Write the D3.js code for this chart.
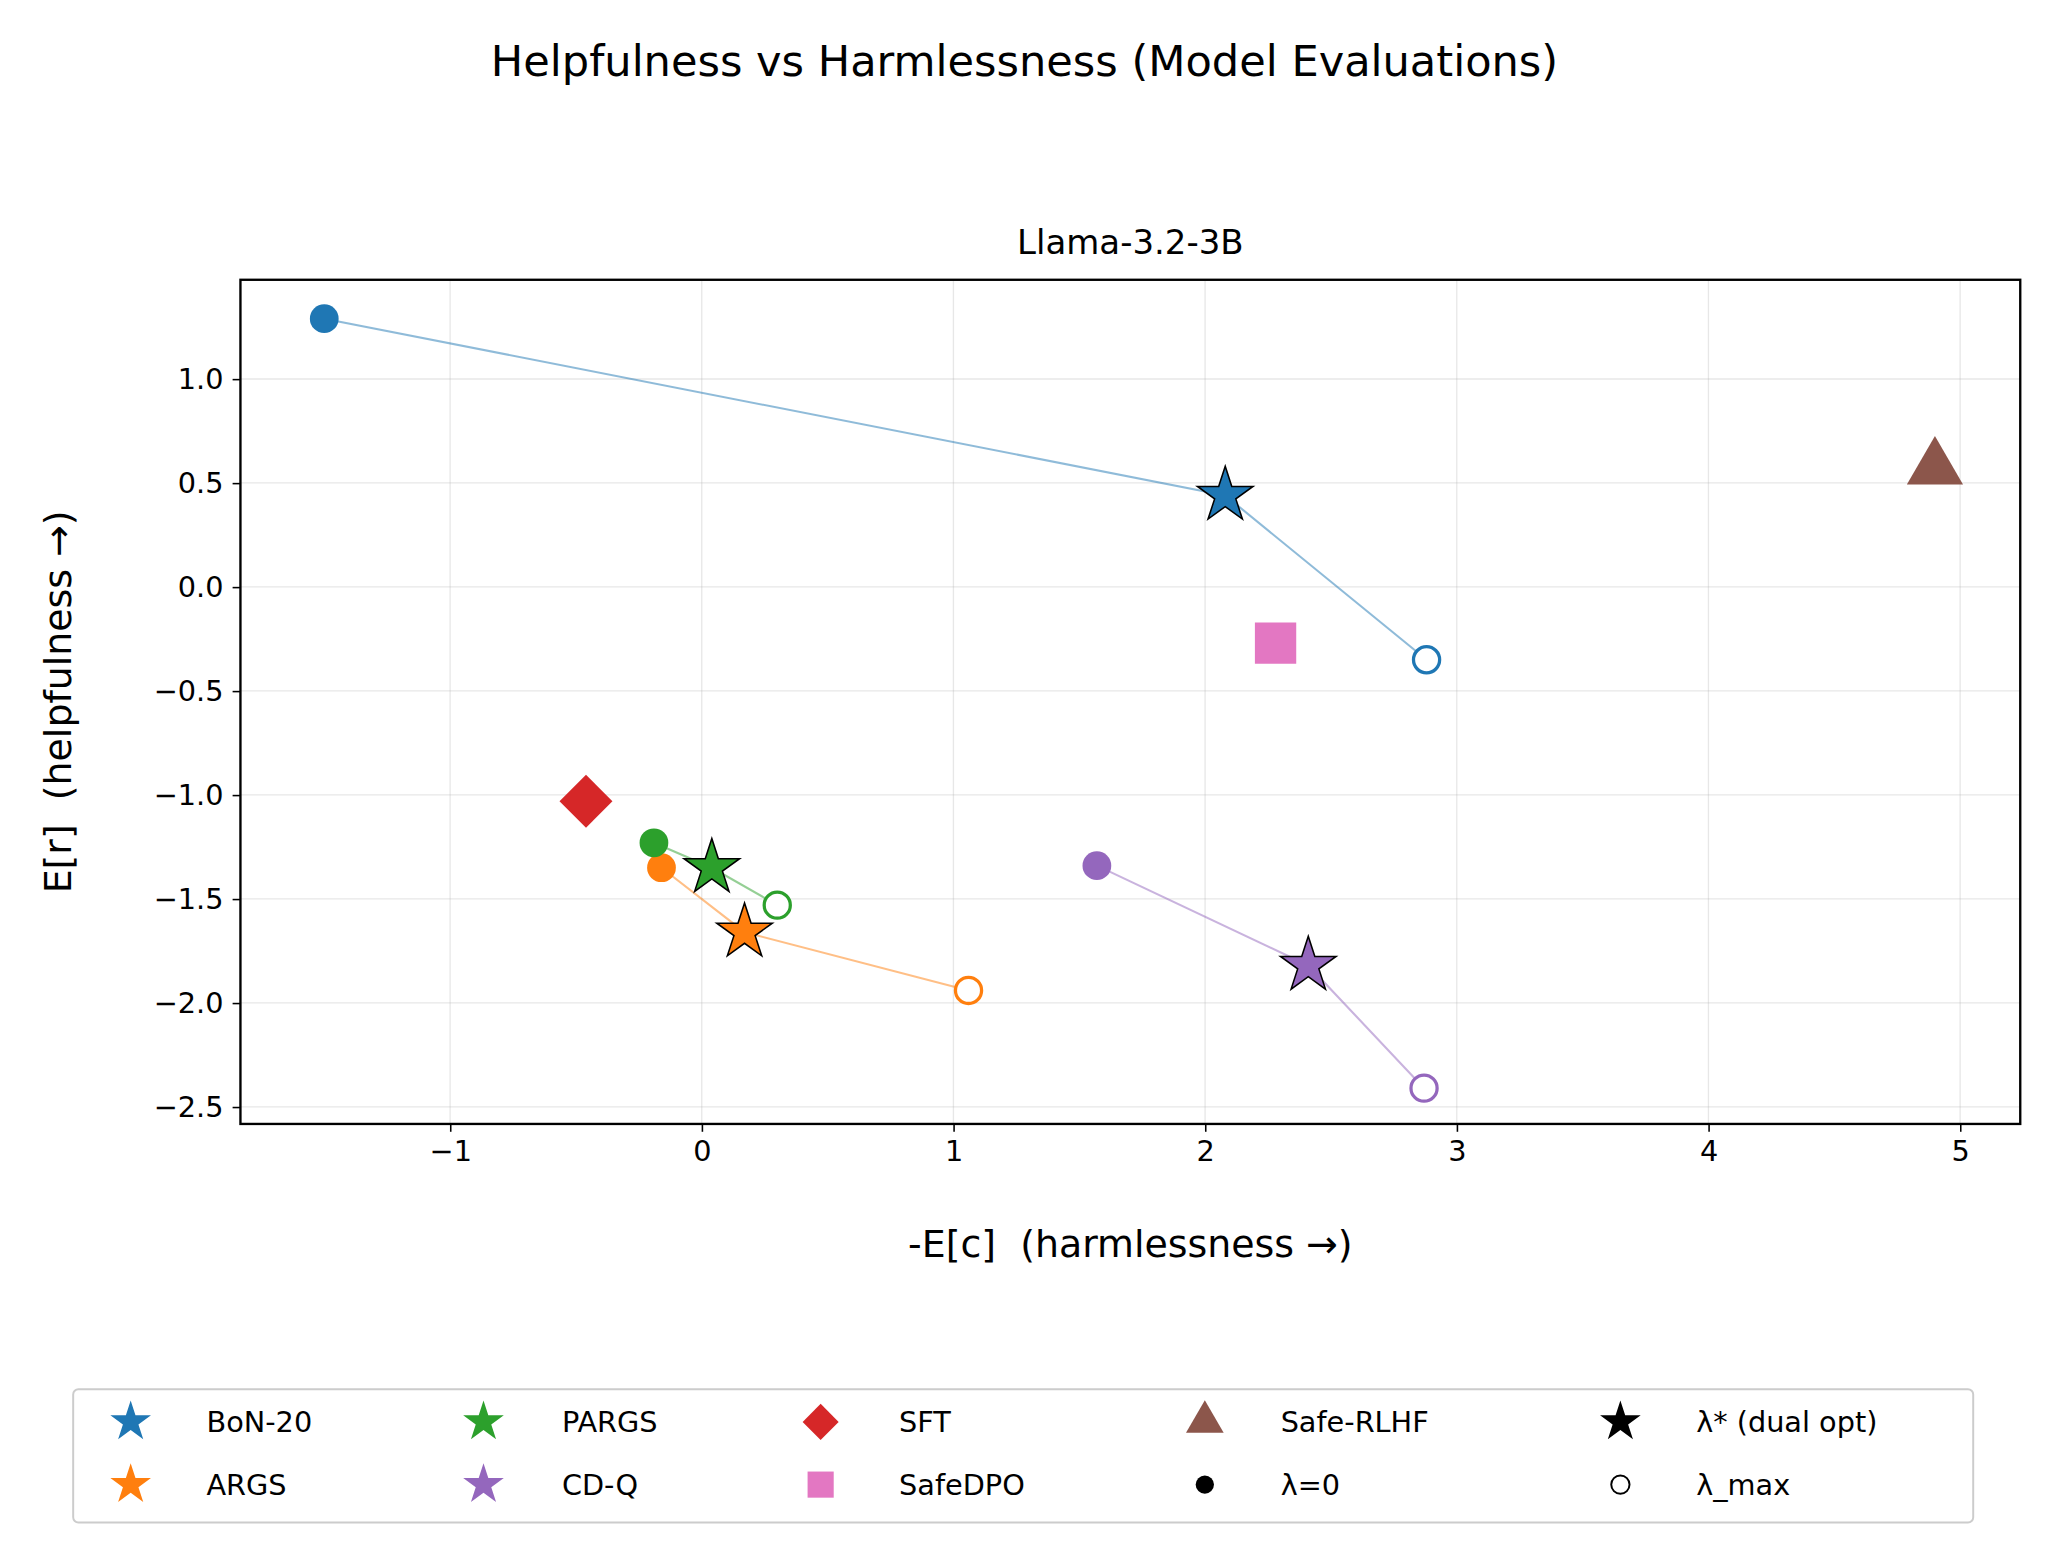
<!DOCTYPE html>
<html><head><meta charset="utf-8">
<script src="https://cdn.jsdelivr.net/npm/d3@7"></script>
<style>body{margin:0;background:#fff}text{font-family:"DejaVu Sans",sans-serif}</style>
</head><body>
<svg id="c" width="2049" height="1554" viewBox="0 0 1568 1189"></svg>
<script>
// methods with a lambda sweep: [lambda=0, lambda*, lambda_max] as [x, y]
var sweepNames = ["BoN-20", "ARGS", "PARGS", "CD-Q"];
var sweepColors = ["#1f77b4", "#ff7f0e", "#2ca02c", "#9467bd"];
var bonPts = [[-1.50, 1.29], [2.08, 0.44], [2.88, -0.35]];
var argsPts = [[-0.16, -1.35], [0.17, -1.66], [1.06, -1.94]];
var pargsPts = [[-0.19, -1.23], [0.04, -1.35], [0.30, -1.53]];
var cdqPts = [[1.57, -1.34], [2.41, -1.82], [2.87, -2.41]];
var sweeps = [bonPts, argsPts, pargsPts, cdqPts];

// single baselines
var baseNames = ["SFT", "SafeDPO", "Safe-RLHF"];
var baseColors = ["#d62728", "#e377c2", "#8c564b"];
var baseShapes = ["diamond", "square", "triangle"];
var basePts = [[-0.46, -1.03], [2.28, -0.27], [4.90, 0.57]];

var xTicks = [-1, 0, 1, 2, 3, 4, 5];
var yTicks = [1.0, 0.5, 0.0, -0.5, -1.0, -1.5, -2.0, -2.5];

var svg = d3.select("#c");
var L = 184, R = 1546, T = 214, B = 860;
var x = d3.scaleLinear().domain([-1.833, 5.239]).range([L, R]);
var y = d3.scaleLinear().domain([-2.582, 1.477]).range([B, T]);
var minus = function(v, f) { return d3.format(f)(v).replace("-", "\u2212"); };

svg.append("text").attr("x", 784).attr("y", 58).attr("text-anchor", "middle")
  .attr("font-size", 33).text("Helpfulness vs Harmlessness (Model Evaluations)");
svg.append("text").attr("x", 865).attr("y", 194).attr("text-anchor", "middle")
  .attr("font-size", 26).text("Llama-3.2-3B");

// grid
svg.append("g").selectAll("line").data(xTicks).join("line")
  .attr("x1", d => x(d)).attr("x2", d => x(d)).attr("y1", T).attr("y2", B)
  .attr("stroke", "#b0b0b0").attr("stroke-opacity", 0.3).attr("stroke-width", 1);
svg.append("g").selectAll("line").data(yTicks).join("line")
  .attr("y1", d => y(d)).attr("y2", d => y(d)).attr("x1", L).attr("x2", R)
  .attr("stroke", "#b0b0b0").attr("stroke-opacity", 0.3).attr("stroke-width", 1);

// axes
var xa = svg.append("g").attr("transform", "translate(0," + B + ")")
  .call(d3.axisBottom(x).tickValues(xTicks).tickSize(6).tickPadding(7).tickFormat(d => minus(d, "d")));
var ya = svg.append("g").attr("transform", "translate(" + L + ",0)")
  .call(d3.axisLeft(y).tickValues(yTicks).tickSize(6).tickPadding(7).tickFormat(d => minus(d, ".1f")));
[xa, ya].forEach(function(a) {
  a.select(".domain").remove();
  a.selectAll("text").attr("font-size", 22).attr("fill", "#000").style("font-family", "DejaVu Sans");
  a.selectAll("line").attr("stroke", "#000").attr("stroke-width", 1.2);
});
svg.append("rect").attr("x", L).attr("y", T).attr("width", R - L).attr("height", B - T)
  .attr("fill", "none").attr("stroke", "#000").attr("stroke-width", 1.8);

svg.append("text").attr("x", (L + R) / 2).attr("y", 962).attr("text-anchor", "middle")
  .attr("font-size", 29).attr("xml:space", "preserve").text("-E[c]\u00a0\u00a0(harmlessness \u2192)");
svg.append("text").attr("transform", "translate(54," + (T + B) / 2 + ") rotate(-90)")
  .attr("text-anchor", "middle").attr("font-size", 29).text("E[r]\u00a0\u00a0(helpfulness \u2192)");

var star = d3.symbol().type(d3.symbolStar);
var line = d3.line().x(d => x(d[0])).y(d => y(d[1]));

sweeps.forEach(function(pts, i) {
  var c = sweepColors[i];
  svg.append("path").attr("d", line(pts)).attr("fill", "none")
    .attr("stroke", c).attr("stroke-opacity", 0.5).attr("stroke-width", 1.6);
  svg.append("circle").attr("cx", x(pts[0][0])).attr("cy", y(pts[0][1])).attr("r", 11).attr("fill", c);
  svg.append("circle").attr("cx", x(pts[2][0])).attr("cy", y(pts[2][1])).attr("r", 10)
    .attr("fill", "#fff").attr("stroke", c).attr("stroke-width", 2.5);
  svg.append("path").attr("d", star.size(560)())
    .attr("transform", "translate(" + x(pts[1][0]) + "," + y(pts[1][1]) + ")")
    .attr("fill", c).attr("stroke", "#000").attr("stroke-width", 1.2);
});

var shapeOf = {
  diamond: d3.symbol().type(d3.symbolSquare).size(820),
  square: d3.symbol().type(d3.symbolSquare).size(1000),
  triangle: d3.symbol().type(d3.symbolTriangle).size(800)
};
basePts.forEach(function(p, i) {
  svg.append("path").attr("d", shapeOf[baseShapes[i]]())
    .attr("transform", "translate(" + x(p[0]) + "," + y(p[1]) + ")" + (baseShapes[i] == "diamond" ? " rotate(45)" : ""))
    .attr("fill", baseColors[i]);
});

// legend
var lg = svg.append("g");
lg.append("rect").attr("x", 56).attr("y", 1063).attr("width", 1454).attr("height", 102)
  .attr("rx", 4).attr("fill", "#fff").attr("stroke", "#ccc").attr("stroke-width", 1.5);
var items = [
  {t: sweepNames[0], k: "star", c: sweepColors[0]},
  {t: sweepNames[1], k: "star", c: sweepColors[1]},
  {t: sweepNames[2], k: "star", c: sweepColors[2]},
  {t: sweepNames[3], k: "star", c: sweepColors[3]},
  {t: baseNames[0], k: "diamond", c: baseColors[0]},
  {t: baseNames[1], k: "square", c: baseColors[1]},
  {t: baseNames[2], k: "triangle", c: baseColors[2]},
  {t: "\u03bb=0", k: "dot", c: "#000"},
  {t: "\u03bb* (dual opt)", k: "star", c: "#000"},
  {t: "\u03bb_max", k: "ring", c: "#000"}
];
var mx = [100, 370, 628, 922, 1240], tx = [158, 430, 688, 980, 1298], ry = [1088, 1136];
items.forEach(function(it, i) {
  var col = Math.floor(i / 2), row = i % 2;
  var g = lg.append("g").attr("transform", "translate(" + mx[col] + "," + ry[row] + ")");
  if (it.k == "dot") g.append("circle").attr("r", 7).attr("fill", "#000");
  else if (it.k == "ring") g.append("circle").attr("r", 7).attr("fill", "#fff").attr("stroke", "#000").attr("stroke-width", 1.5);
  else if (it.k == "star") g.append("path").attr("d", d3.symbol().type(d3.symbolStar).size(300)()).attr("fill", it.c);
  else if (it.k == "diamond") g.append("path").attr("d", d3.symbol().type(d3.symbolSquare).size(380)()).attr("transform", "rotate(45)").attr("fill", it.c);
  else if (it.k == "square") g.append("path").attr("d", d3.symbol().type(d3.symbolSquare).size(400)()).attr("fill", it.c);
  else g.append("path").attr("d", d3.symbol().type(d3.symbolTriangle).size(360)()).attr("fill", it.c);
  lg.append("text").attr("x", tx[col]).attr("y", ry[row] + 8).attr("font-size", 22).text(it.t);
});
</script>
</body></html>
